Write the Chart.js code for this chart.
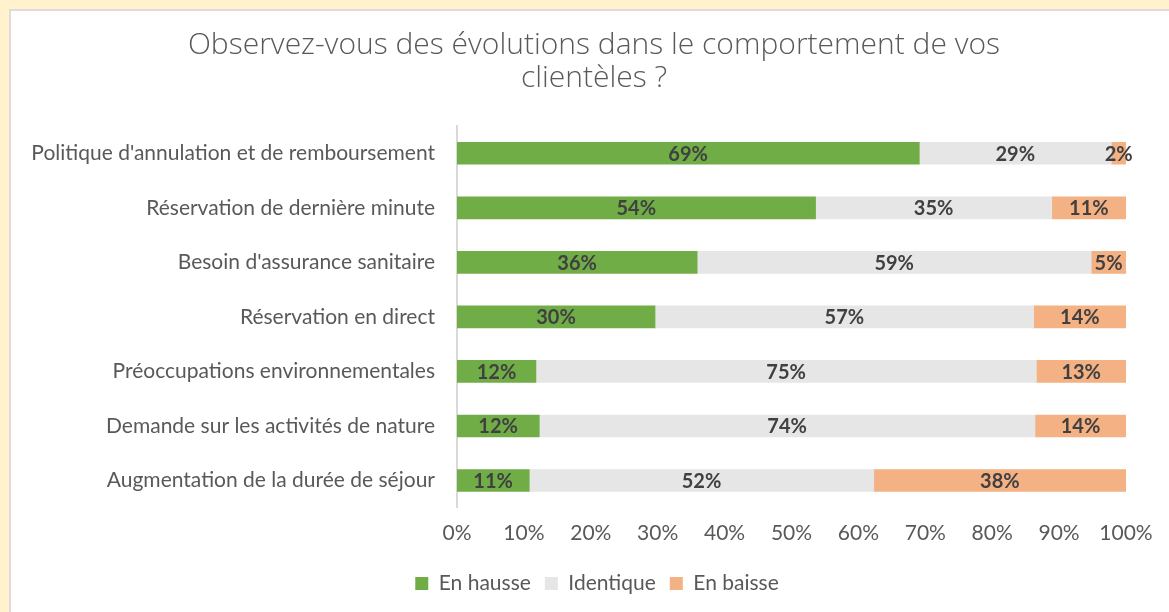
<!DOCTYPE html>
<html>
<head>
<meta charset="utf-8">
<script src="https://cdn.jsdelivr.net/npm/chart.js@4.4.1/dist/chart.umd.min.js"></script>
<style>
  html, body { margin: 0; padding: 0; background: #FFF2CC; width: 1169px; height: 612px; overflow: hidden; }
  .cadre { position: absolute; left: 9px; top: 9px; width: 1170px; height: 620px; background: #fff; border: 2px solid #dcdcdc; }
  #chart { position: absolute; left: 0; top: 0; }
</style>
</head>
<body>
<div class="cadre"></div>
<canvas id="chart" width="1169" height="612"></canvas>
<script>
// ==========================================
// Évolutions du comportement des clientèles
// ==========================================

const TITRE = ['Observez-vous des évolutions dans le comportement de vos', 'clientèles ?'];

const CATEGORIES = [
  "Politique d'annulation et de remboursement",
  'Réservation de dernière minute',
  "Besoin d'assurance sanitaire",
  'Réservation en direct',
  'Préoccupations environnementales',
  'Demande sur les activités de nature',
  'Augmentation de la durée de séjour',
];

const EN_HAUSSE = [69.1, 53.6, 35.9, 29.6, 11.8, 12.3, 10.8];
const IDENTIQUE = [28.7, 35.3, 58.9, 56.6, 74.8, 74.1, 51.5];
const EN_BAISSE = [2.2, 11.1, 5.2, 13.8, 13.4, 13.6, 37.7];

const X_TICKS = [0, 10, 20, 30, 40, 50, 60, 70, 80, 90, 100];

const FONT  = 'Lato';
const GRIS  = '#595959';

// titre sur deux lignes, centré sur le cadre
const titre = {
  id: 'titre',
  afterDraw(chart) {
    const ctx = chart.ctx;
    ctx.save();
    ctx.font = `300 30px "Open Sans"`;
    ctx.fillStyle = GRIS;
    ctx.textAlign = 'center';
    ctx.textBaseline = 'middle';
    TITRE.forEach((ligne, i) => ctx.fillText(ligne, 594, 45 + i * 33));
    ctx.restore();
  }
};

// légende recentrée sous le graphique (comme dans Excel)
const decalageLegende = {
  id: 'decalageLegende',
  afterLayout(chart) {
    chart.legend.left += 29;
    chart.legend.right += 29;
  }
};

// étiquettes de valeur au centre des barres
const etiquettes = {
  id: 'etiquettes',
  afterDatasetsDraw(chart) {
    const ctx = chart.ctx;
    ctx.save();
    ctx.font = `bold 20px ${FONT}`;
    ctx.fillStyle = '#404040';
    ctx.textAlign = 'center';
    ctx.textBaseline = 'middle';
    chart.data.datasets.forEach((ds, i) => {
      const meta = chart.getDatasetMeta(i);
      meta.data.forEach((bar, j) => {
        const v = ds.data[j];
        ctx.fillText(Math.round(v) + '%', (bar.x + bar.base) / 2, bar.y + 1);
      });
    });
    ctx.restore();
  }
};

new Chart(document.getElementById('chart'), {
  type: 'bar',
  data: {
    labels: CATEGORIES,
    datasets: [
      { label: 'En hausse', data: EN_HAUSSE, backgroundColor: '#70AD47' },
      { label: 'Identique', data: IDENTIQUE, backgroundColor: '#E6E6E6' },
      { label: 'En baisse', data: EN_BAISSE, backgroundColor: '#F4B183' },
    ]
  },
  options: {
    indexAxis: 'y',
    responsive: false,
    animation: false,
    datasets: { bar: { barThickness: 22 } },
    layout: { padding: { top: 126, left: 10, right: 43, bottom: 8 } },
    plugins: {
      title: { display: false },
      legend: {
        position: 'bottom',
        labels: {
          color: GRIS,
          font: { family: FONT, size: 21 },
          boxWidth: 13,
          boxHeight: 13,
          padding: 14
        }
      },
      tooltip: { enabled: false }
    },
    scales: {
      x: {
        stacked: true,
        min: 0,
        max: 100,
        afterBuildTicks: axis => { axis.ticks = X_TICKS.map(v => ({ value: v })); },
        grid: { display: false, drawTicks: false },
        border: { display: false },
        ticks: {
          callback: v => v + '%',
          color: GRIS,
          font: { family: FONT, size: 21 },
          padding: 13
        }
      },
      y: {
        stacked: true,
        afterFit: axis => { axis.width = 447; },
        grid: { display: false },
        border: { display: true, color: '#D9D9D9', width: 2 },
        ticks: {
          color: GRIS,
          font: { family: FONT, size: 21 },
          padding: 14
        }
      }
    }
  },
  plugins: [etiquettes, titre, decalageLegende]
});
</script>
</body>
</html>
